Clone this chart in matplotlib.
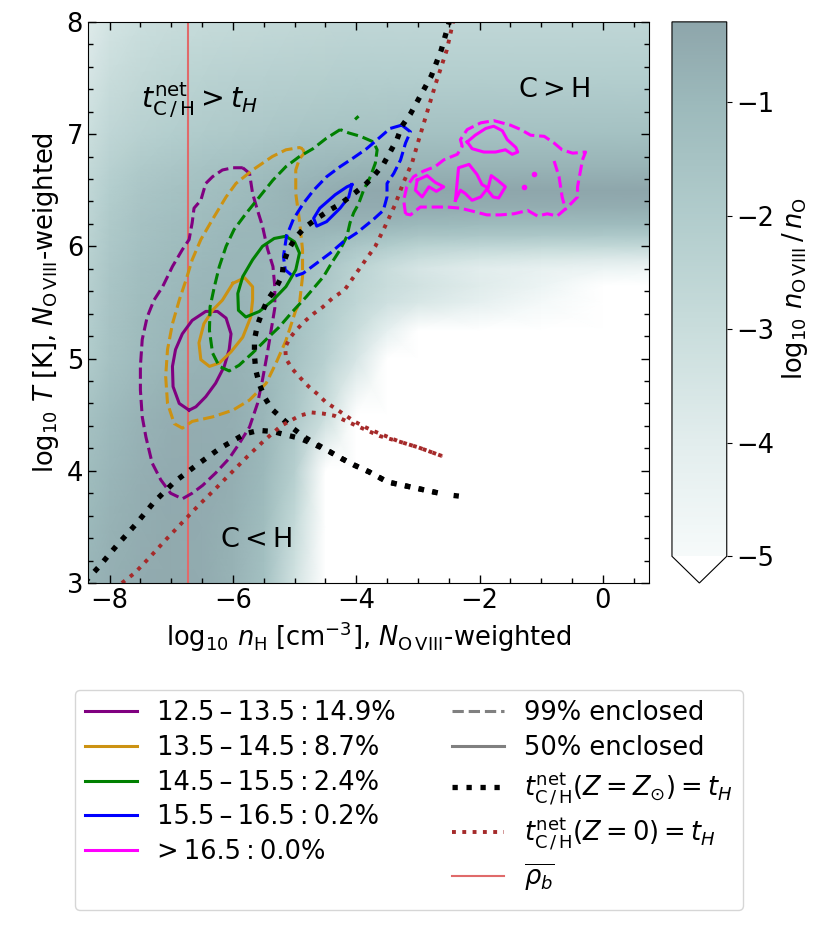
import numpy as np
import matplotlib
matplotlib.use('Agg')
import matplotlib.pyplot as plt
from matplotlib.colors import LinearSegmentedColormap
from matplotlib.lines import Line2D
from matplotlib.ticker import MultipleLocator

plt.rcParams['font.size'] = 18.5
plt.rcParams['mathtext.fontset'] = 'dejavusans'

nh_nodes = [-8.35, -8.0, -7.5, -7.0, -6.5, -6.0, -5.5, -5.0, -4.5, -4.0,
            -3.5, -3.0, -2.0, -1.0, 0.0, 0.75]
t_nodes = [3.0, 3.5, 4.0, 4.5, 5.0, 5.25, 5.5, 5.65, 5.8, 5.9, 6.0, 6.1,
           6.2, 6.35, 6.5, 6.7, 7.0, 7.5, 8.0]
ionfrac = [
    [-0.85, -0.65, -0.5, -0.45, -0.5, -0.8, -1.4, -3.3, -7, -7, -7, -7, -7, -7, -7, -7],
    [-1.0, -0.75, -0.55, -0.45, -0.5, -0.7, -1.2, -2.8, -7, -7, -7, -7, -7, -7, -7, -7],
    [-1.2, -0.9, -0.65, -0.5, -0.5, -0.6, -1.0, -2.2, -5.5, -7, -7, -7, -7, -7, -7, -7],
    [-1.5, -1.1, -0.8, -0.6, -0.55, -0.6, -0.9, -1.7, -3.0, -5.5, -7, -7, -7, -7, -7, -7],
    [-2.0, -1.5, -1.1, -0.9, -0.75, -0.75, -0.95, -1.5, -2.3, -3.5, -6.5, -7, -7, -7, -7, -7],
    [-2.1, -1.55, -1.15, -0.95, -0.8, -0.8, -0.95, -1.4, -2.1, -3.0, -4.2, -5.5, -7, -7, -7, -7],
    [-2.2, -1.6, -1.2, -1.0, -0.85, -0.8, -0.95, -1.35, -1.9, -2.6, -3.2, -3.6, -4.2, -4.9, -5.6, -6.0],
    [-2.25, -1.65, -1.25, -1.05, -0.9, -0.85, -0.95, -1.3, -1.8, -2.5, -3.0, -3.3, -3.9, -4.5, -5.1, -5.4],
    [-2.3, -1.7, -1.3, -1.1, -0.95, -0.9, -0.95, -1.2, -1.7, -2.4, -3.0, -3.5, -4.0, -4.3, -4.5, -4.6],
    [-2.35, -1.75, -1.35, -1.15, -1.0, -0.9, -0.9, -1.1, -1.5, -2.1, -2.6, -3.0, -3.4, -3.6, -3.7, -3.7],
    [-2.4, -1.8, -1.4, -1.2, -1.05, -0.95, -0.9, -1.0, -1.3, -1.7, -2.0, -2.4, -2.6, -2.7, -2.7, -2.7],
    [-2.45, -1.85, -1.45, -1.25, -1.1, -0.95, -0.9, -0.9, -1.0, -1.2, -1.4, -1.6, -1.7, -1.75, -1.8, -1.8],
    [-2.5, -1.9, -1.5, -1.3, -1.15, -1.0, -0.9, -0.8, -0.75, -0.8, -0.9, -1.0, -1.1, -1.1, -1.1, -1.1],
    [-2.6, -2.0, -1.6, -1.4, -1.25, -1.1, -0.95, -0.8, -0.6, -0.5, -0.5, -0.5, -0.55, -0.55, -0.55, -0.55],
    [-2.7, -2.1, -1.7, -1.5, -1.35, -1.2, -1.0, -0.8, -0.6, -0.45, -0.4, -0.35, -0.3, -0.3, -0.3, -0.3],
    [-2.8, -2.3, -1.9, -1.7, -1.55, -1.4, -1.25, -1.1, -0.95, -0.85, -0.8, -0.8, -0.8, -0.8, -0.8, -0.8],
    [-3.1, -2.6, -2.3, -2.1, -1.95, -1.85, -1.75, -1.65, -1.55, -1.5, -1.45, -1.4, -1.4, -1.4, -1.4, -1.4],
    [-3.5, -3.0, -2.7, -2.5, -2.4, -2.3, -2.25, -2.2, -2.15, -2.1, -2.1, -2.1, -2.1, -2.1, -2.1, -2.1],
    [-3.9, -3.4, -3.1, -2.95, -2.85, -2.8, -2.75, -2.7, -2.65, -2.6, -2.6, -2.6, -2.6, -2.6, -2.6, -2.6],
]

# --- t_cool/heat = t_H curves ---
zsun_a_x = [-8.40, -8.18, -7.89, -7.58, -7.28, -6.95, -6.59, -6.21, -5.80, -5.58, -5.35,
            -5.14, -4.92, -4.70, -4.43, -4.24, -4.03, -3.79, -3.49, -3.07, -2.65]
zsun_a_y = [3.01, 3.14, 3.33, 3.52, 3.72, 3.90, 4.05, 4.20, 4.33, 4.36, 4.35,
            4.32, 4.29, 4.24, 4.17, 4.11, 4.05, 3.99, 3.90, 3.85, 3.80]
zsun_b_x = [-2.48, -2.62, -2.78, -2.95, -3.12, -3.26, -3.34, -3.45, -3.56, -3.71, -3.87,
            -4.06, -4.25, -4.44, -4.63, -4.83, -4.98, -5.10, -5.18, -5.20, -5.30, -5.44,
            -5.52, -5.60, -5.65, -5.65, -5.63, -5.57, -5.48, -5.37, -5.19, -5.03, -4.84,
            -4.65, -4.43, -4.24, -4.03, -3.79, -3.49, -3.07, -2.65]
zsun_b_y = [8.02, 7.75, 7.52, 7.35, 7.18, 7.07, 6.95, 6.84, 6.73, 6.63, 6.54,
            6.46, 6.38, 6.32, 6.25, 6.17, 6.08, 5.97, 5.85, 5.74, 5.63, 5.52,
            5.42, 5.30, 5.17, 5.03, 4.90, 4.77, 4.65, 4.55, 4.46, 4.38, 4.30,
            4.24, 4.17, 4.11, 4.05, 3.99, 3.90, 3.85, 3.80]
zsun_c_x = [-2.42, -2.27]
zsun_c_y = [3.78, 3.77]

z0_a_x = [-7.80, -7.59, -7.33, -7.08, -6.82, -6.56, -6.30, -6.03, -5.76, -5.51, -5.22,
          -4.92, -4.73, -4.54, -4.35, -4.03, -3.62, -3.30, -3.00, -2.80, -2.60]
z0_a_y = [3.00, 3.09, 3.24, 3.39, 3.54, 3.69, 3.83, 3.98, 4.13, 4.26, 4.40,
          4.49, 4.52, 4.51, 4.49, 4.41, 4.31, 4.26, 4.21, 4.17, 4.13]
z0_b_x = [-2.42, -2.53, -2.71, -2.88, -2.99, -3.09, -3.24, -3.37, -3.53, -3.69, -3.91,
          -4.19, -4.38, -4.54, -4.69, -4.84, -4.98, -5.08, -5.15, -5.14, -5.04, -4.91,
          -4.77, -4.62, -4.49, -4.35, -4.19, -4.03, -3.86, -3.70, -3.30, -3.00, -2.80, -2.60]
z0_b_y = [8.02, 7.75, 7.45, 7.14, 6.94, 6.75, 6.56, 6.37, 6.18, 6.00, 5.83,
          5.61, 5.54, 5.46, 5.40, 5.33, 5.25, 5.18, 5.10, 5.00, 4.91, 4.83,
          4.75, 4.68, 4.61, 4.56, 4.50, 4.44, 4.39, 4.35, 4.26, 4.21, 4.17, 4.13]

rho_b_lognh = -6.72

# --- enclosed-fraction contours per column-density bin ---
bin_labels = ['12.5\u2009–\u200913.5\u2009:\u200914.9%', '13.5\u2009–\u200914.5\u2009:\u20098.7%',
              '14.5\u2009–\u200915.5\u2009:\u20092.4%', '15.5\u2009–\u200916.5\u2009:\u20090.2%',
              '>\u200916.5\u2009:\u20090.0%']
bin_colors = ['purple', '#cc9212', 'green', 'blue', 'magenta']

purple_99_x = [-5.84, -5.73, -5.68, -5.60, -5.52, -5.44, -5.35, -5.32, -5.32, -5.38, -5.44,
               -5.52, -5.60, -5.73, -5.90, -6.06, -6.28, -6.49, -6.66, -6.82, -7.01, -7.17,
               -7.31, -7.41, -7.47, -7.50, -7.50, -7.47, -7.39, -7.28, -7.14, -6.98, -6.82,
               -6.71, -6.66, -6.63, -6.52, -6.44, -6.33, -6.17, -6.00, -5.84]
purple_99_y = [6.70, 6.65, 6.47, 6.32, 6.18, 5.98, 5.82, 5.64, 5.45, 5.25, 5.05,
               4.81, 4.60, 4.39, 4.24, 4.11, 3.98, 3.87, 3.80, 3.75, 3.80, 3.92,
               4.07, 4.30, 4.48, 4.72, 4.93, 5.17, 5.37, 5.52, 5.64, 5.82, 5.97,
               6.06, 6.21, 6.34, 6.41, 6.56, 6.62, 6.68, 6.70, 6.70]
purple_50_x = [-6.71, -6.87, -6.97, -6.98, -6.93, -6.82, -6.66, -6.44, -6.25, -6.11, -6.03,
               -6.06, -6.14, -6.28, -6.44, -6.60, -6.71]
purple_50_y = [4.54, 4.60, 4.75, 4.93, 5.08, 5.22, 5.34, 5.42, 5.42, 5.36, 5.22,
               5.08, 4.93, 4.78, 4.66, 4.57, 4.54]

orange_99_x = [-4.87, -4.84, -4.92, -4.98, -4.98, -4.92, -4.87, -4.87, -4.92, -4.98, -5.14,
               -5.30, -5.46, -5.73, -6.00, -6.33, -6.66, -6.82, -6.95, -7.06, -7.09, -7.06,
               -6.98, -6.87, -6.76, -6.66, -6.52, -6.33, -6.11, -5.95, -5.68, -5.36, -5.14,
               -4.92, -4.87]
orange_99_y = [6.87, 6.83, 6.78, 6.68, 6.47, 6.23, 5.97, 5.73, 5.49, 5.43, 5.16,
               4.96, 4.78, 4.63, 4.54, 4.48, 4.44, 4.38, 4.42, 4.60, 4.84, 5.08,
               5.31, 5.52, 5.70, 5.88, 6.06, 6.24, 6.44, 6.56, 6.68, 6.80, 6.86,
               6.88, 6.87]
orange_50_x = [-6.00, -5.81, -5.68, -5.68, -5.71, -5.84, -6.03, -6.22, -6.38, -6.52, -6.55,
               -6.47, -6.33, -6.17, -6.00]
orange_50_y = [5.67, 5.72, 5.64, 5.52, 5.37, 5.19, 5.06, 4.96, 4.93, 4.99, 5.14,
               5.31, 5.43, 5.52, 5.67]

green_99_x = [-4.26, -4.49, -4.70, -4.92, -5.14, -5.35, -5.57, -5.79, -5.98, -6.11, -6.22,
              -6.30, -6.37, -6.38, -6.33, -6.22, -6.06, -5.90, -5.68, -5.46, -5.25, -5.03,
              -4.81, -4.53, -4.40, -4.26, -4.15, -4.10, -4.04, -3.96, -3.88, -3.77, -3.69,
              -3.66, -3.72, -3.93, -4.12, -4.26]
green_99_y = [7.04, 6.96, 6.87, 6.80, 6.71, 6.59, 6.44, 6.29, 6.15, 6.00, 5.82,
              5.64, 5.46, 5.25, 5.05, 4.93, 4.89, 4.94, 5.05, 5.17, 5.28, 5.42,
              5.55, 5.73, 5.85, 5.97, 6.09, 6.21, 6.30, 6.38, 6.50, 6.62, 6.74,
              6.86, 6.93, 6.98, 7.01, 7.04]
green_99_dot_x = [-4.00, -3.98]
green_99_dot_y = [7.14, 7.15]
green_50_x = [-5.14, -5.00, -4.92, -4.98, -5.14, -5.35, -5.57, -5.79, -5.91, -5.92, -5.84,
              -5.68, -5.52, -5.33, -5.14]
green_50_y = [6.09, 6.04, 5.94, 5.79, 5.64, 5.52, 5.42, 5.37, 5.43, 5.58, 5.73,
              5.88, 6.00, 6.07, 6.09]

blue_99_x = [-3.26, -3.12, -3.20, -3.28, -3.39, -3.50, -3.50, -3.56, -3.72, -3.99, -4.21,
             -4.42, -4.64, -4.86, -5.02, -5.15, -5.18, -5.13, -5.02, -4.86, -4.69, -4.48,
             -4.26, -4.04, -3.83, -3.66, -3.45, -3.26]
blue_99_y = [7.08, 7.02, 6.92, 6.77, 6.65, 6.56, 6.44, 6.32, 6.24, 6.12, 6.04,
             5.94, 5.85, 5.76, 5.73, 5.79, 5.91, 6.09, 6.24, 6.38, 6.50, 6.62,
             6.71, 6.79, 6.87, 6.95, 7.05, 7.08]
blue_50_x = [-4.07, -4.12, -4.26, -4.48, -4.64, -4.69, -4.59, -4.34, -4.15, -4.07]
blue_50_y = [6.55, 6.44, 6.34, 6.22, 6.18, 6.25, 6.34, 6.46, 6.53, 6.55]

mag_99_x = [-3.20, -3.23, -3.18, -3.07, -2.91, -2.72, -2.58, -2.36, -2.28, -2.31, -2.20,
            -1.98, -1.77, -1.50, -1.33, -1.17, -0.95, -0.79, -0.66, -0.49, -0.28, -0.33,
            -0.41, -0.41, -0.57, -0.74, -0.90, -1.06, -1.22, -1.44, -1.66, -1.88, -2.09,
            -2.31, -2.53, -2.74, -2.96, -3.12, -3.20]
mag_99_y = [6.29, 6.41, 6.53, 6.62, 6.67, 6.71, 6.77, 6.82, 6.89, 6.95, 7.04,
            7.10, 7.12, 7.08, 7.04, 6.99, 6.98, 6.92, 6.86, 6.83, 6.84, 6.77,
            6.53, 6.44, 6.35, 6.27, 6.29, 6.27, 6.32, 6.29, 6.28, 6.28, 6.31,
            6.34, 6.35, 6.35, 6.35, 6.28, 6.29]
mag_99_in_x = [-0.79, -0.71, -0.66, -0.60]
mag_99_in_y = [6.76, 6.62, 6.44, 6.32]
mag_50_top_x = [-2.20, -2.07, -1.90, -1.77, -1.63, -1.55, -1.41, -1.38, -1.47, -1.58, -1.74,
                -1.93, -2.12, -2.20]
mag_50_top_y = [6.93, 6.99, 7.05, 7.07, 7.03, 6.95, 6.88, 6.84, 6.82, 6.86, 6.84,
                6.84, 6.87, 6.93]
mag_50_mid_x = [-2.39, -2.34, -2.17, -2.04, -1.96, -1.86, -1.81, -1.71, -1.58, -1.69, -1.78,
                -1.88, -1.98, -2.12, -2.23, -2.31, -2.39]
mag_50_mid_y = [6.41, 6.70, 6.73, 6.64, 6.55, 6.52, 6.63, 6.59, 6.53, 6.43, 6.44,
                6.51, 6.44, 6.41, 6.47, 6.50, 6.41]
mag_50_left_x = [-3.01, -2.85, -2.72, -2.58, -2.70, -2.82, -2.93, -3.04, -3.01]
mag_50_left_y = [6.59, 6.63, 6.57, 6.53, 6.49, 6.53, 6.44, 6.50, 6.59]
mag_50_dots_x = [-1.28, -1.12]
mag_50_dots_y = [6.53, 6.64]

# --- colours of the ion-fraction map ---
cb_vals = [-5.0, -4.0, -3.0, -2.0, -1.0, -0.29]
cb_cols = ['#f6fafa', '#e2eded', '#c9dddc', '#b1cccc', '#9cb9bb', '#8ea6ab']
vmin, vmax = cb_vals[0], cb_vals[-1]
cmap = LinearSegmentedColormap.from_list(
    'ovfrac', [((v - vmin) / (vmax - vmin), c) for v, c in zip(cb_vals, cb_cols)])
cmap.set_under('white')

fig = plt.figure(figsize=(8.3, 9.26), dpi=100)
ax = fig.add_axes([0.106, 0.3704, 0.676, 0.606])
cax = fig.add_axes([0.8096, 0.3704, 0.066, 0.606])

mesh = ax.pcolormesh(nh_nodes, t_nodes, np.array(ionfrac), shading='gouraud',
                     cmap=cmap, vmin=vmin, vmax=vmax, zorder=0)

lw_c = 2.2
ax.axvline(rho_b_lognh, color='#e06a6a', lw=1.5)

contours = [
    (purple_99_x, purple_99_y, purple_50_x, purple_50_y),
    (orange_99_x, orange_99_y, orange_50_x, orange_50_y),
    (green_99_x, green_99_y, green_50_x, green_50_y),
    (blue_99_x, blue_99_y, blue_50_x, blue_50_y),
]
for col, (x99, y99, x50, y50) in zip(bin_colors, contours):
    ax.plot(x99, y99, color=col, ls='--', lw=lw_c)
    ax.plot(x50, y50, color=col, ls='-', lw=lw_c)
ax.plot(green_99_dot_x, green_99_dot_y, color='green', lw=lw_c)

ax.plot(mag_99_x, mag_99_y, color='magenta', ls='--', lw=lw_c)
ax.plot(mag_99_in_x, mag_99_in_y, color='magenta', ls='--', lw=lw_c)
for mx, my in [(mag_50_top_x, mag_50_top_y), (mag_50_mid_x, mag_50_mid_y),
               (mag_50_left_x, mag_50_left_y)]:
    ax.plot(mx, my, color='magenta', ls='-', lw=lw_c)
ax.plot(mag_50_dots_x, mag_50_dots_y, ls='none', marker='o', ms=3, color='magenta')

for xs, ys in [(zsun_a_x, zsun_a_y), (zsun_b_x, zsun_b_y), (zsun_c_x, zsun_c_y)]:
    ax.plot(xs, ys, color='black', ls=':', lw=3.8)
for xs, ys in [(z0_a_x, z0_a_y), (z0_b_x, z0_b_y)]:
    ax.plot(xs, ys, color='brown', ls=':', lw=2.8)

ax.text(-6.55, 7.23, r'$t_{\mathrm{C\,/\,H}}^{\mathrm{net}} > t_H$', ha='center',
        va='baseline', fontsize=20.5)
ax.text(-0.79, 7.39, r'$\mathrm{C} > \mathrm{H}$', ha='center', va='center', fontsize=19.5)
ax.text(-5.62, 3.38, r'$\mathrm{C} < \mathrm{H}$', ha='center', va='center', fontsize=19.5)

ax.set_xlim(-8.35, 0.75)
ax.set_ylim(3, 8)
ax.xaxis.set_major_locator(MultipleLocator(2))
ax.xaxis.set_minor_locator(MultipleLocator(0.5))
ax.yaxis.set_major_locator(MultipleLocator(1))
ax.yaxis.set_minor_locator(MultipleLocator(0.2))
ax.tick_params(which='both', direction='in', top=True, right=True)
ax.tick_params(which='major', length=6, width=1)
ax.tick_params(which='minor', length=3.5, width=1)
ax.set_xlabel(r'$\log_{10} \, n_{\mathrm{H}} \; [\mathrm{cm}^{-3}]$, $N_{\mathrm{O\,VIII}}$-weighted')
ax.set_ylabel(r'$\log_{10} \, T \; [\mathrm{K}]$, $N_{\mathrm{O\,VIII}}$-weighted')

cbar = fig.colorbar(mesh, cax=cax, extend='min')
cbar.set_ticks([-5, -4, -3, -2, -1])
cbar.set_label(r'$\log_{10} \, n_{\mathrm{O\,VIII}} \, / \, n_{\mathrm{O}}$')

handles = [Line2D([], [], color=c, lw=2.2) for c in bin_colors]
labels = list(bin_labels)
handles.append(Line2D([], [], color='none'))
labels.append(' ')
handles += [Line2D([], [], color='gray', ls='--', lw=2.2),
            Line2D([], [], color='gray', ls='-', lw=2.2),
            Line2D([], [], color='black', ls=':', lw=3.8),
            Line2D([], [], color='brown', ls=':', lw=2.8),
            Line2D([], [], color='#e06a6a', lw=1.5)]
labels += ['99% enclosed', '50% enclosed',
           r'$t_{\mathrm{C\,/\,H}}^{\mathrm{net}}(Z = Z_{\odot}) = t_H$',
           r'$t_{\mathrm{C\,/\,H}}^{\mathrm{net}}(Z = 0) = t_H$',
           r'$\overline{\rho_b}$']
fig.legend(handles, labels, ncol=2, loc='upper left', bbox_to_anchor=(0.0904, 0.2549),
           borderaxespad=0, fontsize=18.5, columnspacing=2.2, labelspacing=0.34)

fig.savefig('out.png', dpi=100)
